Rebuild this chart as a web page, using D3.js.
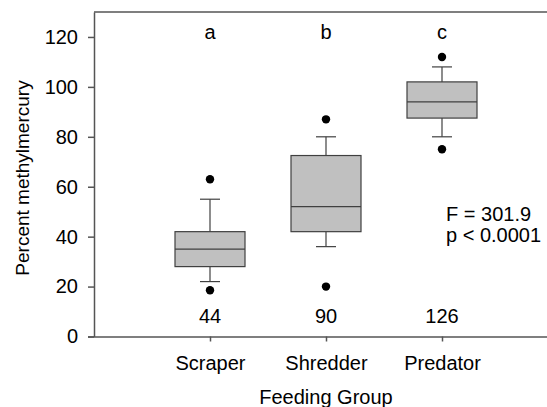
<!DOCTYPE html>
<html>
<head>
<meta charset="utf-8">
<script src="https://cdn.jsdelivr.net/npm/d3@7"></script>
<style>
  html, body { margin: 0; padding: 0; background: #fff; }
  svg { display: block; }
  text { font-family: "Liberation Sans", Arial, sans-serif; fill: #000; }
</style>
</head>
<body>
<svg id="chart" width="547" height="407"></svg>
<script>
// Data
const categories = ["Scraper", "Shredder", "Predator"];
const whiskerLow  = [22, 36, 80];
const q1          = [28, 42, 87.5];
const median      = [35, 52, 94];
const q3          = [42, 72.5, 102];
const whiskerHigh = [55, 80, 108];
const outliersLow  = [18.5, 20, 75];
const outliersHigh = [63, 87, 112];
const letters = ["a", "b", "c"];
const counts  = ["44", "90", "126"];
const yTicks = [0, 20, 40, 60, 80, 100, 120];
const statLines = ["F = 301.9", "p < 0.0001"];

const svg = d3.select("#chart");
const plotLeft = 94, plotTop = 12, plotBottom = 336.5, plotRight = 558;

const x = d3.scalePoint().domain(categories).range([plotLeft, plotRight]).padding(1);
const y = d3.scaleLinear().domain([0, 130]).range([plotBottom, plotTop]);

const axisColor = "#555";
const fontSize = 20;
const ff = "Liberation Sans, Arial, sans-serif";

// Top frame line
svg.append("line")
  .attr("x1", plotLeft).attr("x2", plotRight)
  .attr("y1", y(130)).attr("y2", y(130))
  .attr("stroke", axisColor).attr("stroke-width", 1.5);

// Y axis
const yAxis = svg.append("g").attr("transform", `translate(${plotLeft},0)`)
  .call(d3.axisLeft(y).tickValues(yTicks).tickSize(6).tickPadding(10).tickSizeOuter(0));
yAxis.select(".domain").attr("stroke", axisColor).attr("stroke-width", 1.5);
yAxis.selectAll(".tick line").attr("stroke", axisColor).attr("stroke-width", 1.5);
yAxis.selectAll(".tick text").style("font-size", fontSize + "px").attr("fill", "#000")
  .style("font-family", ff);

// X axis
const xAxis = svg.append("g").attr("transform", `translate(0,${plotBottom})`)
  .call(d3.axisBottom(x).tickSize(5).tickPadding(14).tickSizeOuter(0));
xAxis.select(".domain").attr("d", `M${plotLeft - 6},0.5H${plotRight}`)
  .attr("stroke", axisColor).attr("stroke-width", 1.5);
xAxis.selectAll(".tick line").attr("stroke", axisColor).attr("stroke-width", 1.5);
xAxis.selectAll(".tick text").style("font-size", fontSize + "px").attr("fill", "#000")
  .style("font-family", ff);

// Boxes
const boxW = 70, capW = 20;
const boxStroke = "#404040";
categories.forEach((c, i) => {
  const cx = x(c);
  const g = svg.append("g");
  g.append("line").attr("x1", cx).attr("x2", cx)
    .attr("y1", y(q3[i])).attr("y2", y(whiskerHigh[i]))
    .attr("stroke", boxStroke).attr("stroke-width", 1.2);
  g.append("line").attr("x1", cx).attr("x2", cx)
    .attr("y1", y(q1[i])).attr("y2", y(whiskerLow[i]))
    .attr("stroke", boxStroke).attr("stroke-width", 1.2);
  g.append("line").attr("x1", cx - capW / 2).attr("x2", cx + capW / 2)
    .attr("y1", y(whiskerHigh[i])).attr("y2", y(whiskerHigh[i]))
    .attr("stroke", boxStroke).attr("stroke-width", 1.2);
  g.append("line").attr("x1", cx - capW / 2).attr("x2", cx + capW / 2)
    .attr("y1", y(whiskerLow[i])).attr("y2", y(whiskerLow[i]))
    .attr("stroke", boxStroke).attr("stroke-width", 1.2);
  g.append("rect")
    .attr("x", cx - boxW / 2).attr("width", boxW)
    .attr("y", y(q3[i])).attr("height", y(q1[i]) - y(q3[i]))
    .attr("fill", "#c0c0c0").attr("stroke", boxStroke).attr("stroke-width", 1.2);
  g.append("line").attr("x1", cx - boxW / 2).attr("x2", cx + boxW / 2)
    .attr("y1", y(median[i])).attr("y2", y(median[i]))
    .attr("stroke", boxStroke).attr("stroke-width", 1.2);
  [outliersLow[i], outliersHigh[i]].forEach(v => {
    g.append("circle").attr("cx", cx).attr("cy", y(v)).attr("r", 4.2).attr("fill", "#000");
  });
  svg.append("text").attr("x", cx).attr("y", 38.5)
    .attr("text-anchor", "middle").style("font-size", fontSize + "px").text(letters[i]);
  svg.append("text").attr("x", cx).attr("y", 322.5)
    .attr("text-anchor", "middle").style("font-size", fontSize + "px").text(counts[i]);
});

// Stats text
statLines.forEach((s, i) => {
  svg.append("text").attr("x", 446).attr("y", 221 + i * 20.5)
    .style("font-size", fontSize + "px").text(s);
});

// Axis titles
svg.append("text")
  .attr("transform", `translate(29,178) rotate(-90)`)
  .attr("text-anchor", "middle").style("font-size", "19px")
  .text("Percent methylmercury");
svg.append("text")
  .attr("x", x("Shredder")).attr("y", 404)
  .attr("text-anchor", "middle").style("font-size", fontSize + "px")
  .text("Feeding Group");
</script>
</body>
</html>
